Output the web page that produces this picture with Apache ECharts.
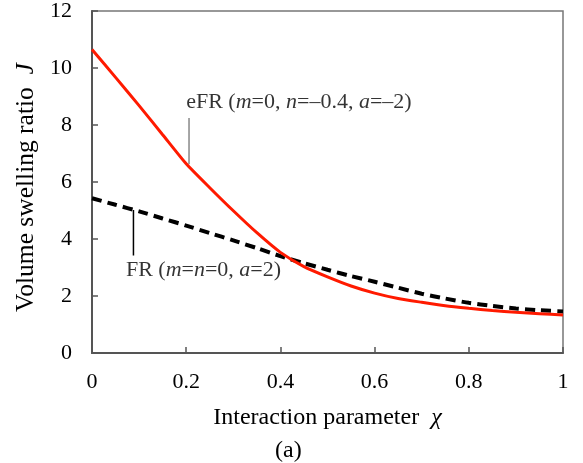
<!DOCTYPE html>
<html><head><meta charset="utf-8">
<script src="https://cdn.jsdelivr.net/npm/echarts@6/dist/echarts.min.js"></script>
<style>html,body{margin:0;padding:0;background:#fff}#c{width:583px;height:463px}</style>
</head><body><div id="c"></div>
<script>
const chi = [0, 0.05, 0.1, 0.15, 0.2, 0.25, 0.3, 0.35, 0.4, 0.45, 0.5, 0.55, 0.6, 0.65, 0.7, 0.75, 0.8, 0.85, 0.9, 0.95, 1];
const eFR = [10.65, 9.67, 8.68, 7.66, 6.64, 5.80, 4.99, 4.22, 3.53, 3.03, 2.67, 2.35, 2.10, 1.91, 1.78, 1.66, 1.57, 1.49, 1.43, 1.38, 1.33];
const FR = [5.43, 5.20, 4.97, 4.72, 4.47, 4.21, 3.95, 3.68, 3.40, 3.15, 2.92, 2.70, 2.50, 2.29, 2.08, 1.91, 1.76, 1.65, 1.56, 1.50, 1.46];
const xTicks = [0, 0.2, 0.4, 0.6, 0.8, 1];
const yTicks = [0, 2, 4, 6, 8, 10, 12];
const eFRLeader = [[0.206, 8.25], [0.206, 6.62]];
const FRLeader = [[0.088, 5.02], [0.088, 3.42]];
const eFRLabelAt = [0.2, 8.8];
const FRLabelAt = [0.072, 2.9];
const FONT = '"Liberation Serif", "Times New Roman", serif';

const chart = echarts.init(document.getElementById('c'));
const rich = {
  n: {fontFamily: FONT, fontSize: 22, color: '#000'},
  i: {fontFamily: FONT, fontSize: 22, color: '#000', fontStyle: 'italic'}
};
chart.setOption({
  animation: false,
  grid: {left: 92, right: 20, top: 11, bottom: 110, show: true, borderColor: '#777', borderWidth: 1.5},
  xAxis: {
    type: 'value', min: 0, max: 1, interval: 0.2,
    axisLine: {lineStyle: {color: '#555', width: 2}},
    axisTick: {inside: true, length: 6, lineStyle: {color: '#555', width: 1.5}},
    splitLine: {show: false},
    axisLabel: {fontFamily: FONT, fontSize: 22, color: '#000', margin: 18,
      formatter: v => String(xTicks.find(t => Math.abs(t - v) < 1e-9) ?? v)},
    name: 'Interaction parameter  {i|χ}', nameLocation: 'middle', nameGap: 53,
    nameTextStyle: {fontFamily: FONT, fontSize: 24, color: '#000', rich: {i: {fontFamily: FONT, fontSize: 24, fontStyle: 'italic', color: '#000'}}}
  },
  yAxis: {
    type: 'value', min: 0, max: 12, interval: 2,
    axisLine: {show: true, lineStyle: {color: '#555', width: 2}},
    axisTick: {show: true, inside: true, length: 6, lineStyle: {color: '#555', width: 1.5}},
    splitLine: {show: false},
    axisLabel: {fontFamily: FONT, fontSize: 22, color: '#000', margin: 20,
      formatter: v => String(yTicks.find(t => t === v) ?? v)},
    name: 'Volume swelling ratio  {i|J}', nameLocation: 'middle', nameGap: 53,
    nameTextStyle: {fontFamily: FONT, fontSize: 25.5, color: '#000', padding: [0, 11, 0, 0],
      rich: {i: {fontFamily: FONT, fontSize: 25.5, fontStyle: 'italic', color: '#000'}}}
  },
  graphic: [{type: 'text', left: 275, top: 439, style: {text: '(a)', font: '24px ' + FONT, fill: '#000'}}],
  series: [
    {type: 'line', data: chi.map((x, k) => [x, FR[k]]), symbol: 'none', smooth: 0.2,
     lineStyle: {color: '#000', width: 4, type: [10, 6]}, z: 3},
    {type: 'line', data: chi.map((x, k) => [x, eFR[k]]), symbol: 'none', smooth: 0.2,
     lineStyle: {color: '#ff1a00', width: 3}, z: 4},
    {type: 'line', data: eFRLeader, symbol: 'none', lineStyle: {color: '#888', width: 1.5}, z: 2},
    {type: 'line', data: FRLeader, symbol: 'none', lineStyle: {color: '#000', width: 1.5}, z: 2},
    {type: 'scatter', symbolSize: 0, z: 5,
     data: [eFRLabelAt],
     label: {show: true, position: 'right', distance: 0, rich,
       formatter: '{n|eFR (}{i|m}{n|=0, }{i|n}{n|=–0.4, }{i|a}{n|=–2)}'}},
    {type: 'scatter', symbolSize: 0, z: 5,
     data: [FRLabelAt],
     label: {show: true, position: 'right', distance: 0, rich,
       formatter: '{n|FR (}{i|m}{n|=}{i|n}{n|=0, }{i|a}{n|=2)}'}}
  ]
});
</script></body></html>
